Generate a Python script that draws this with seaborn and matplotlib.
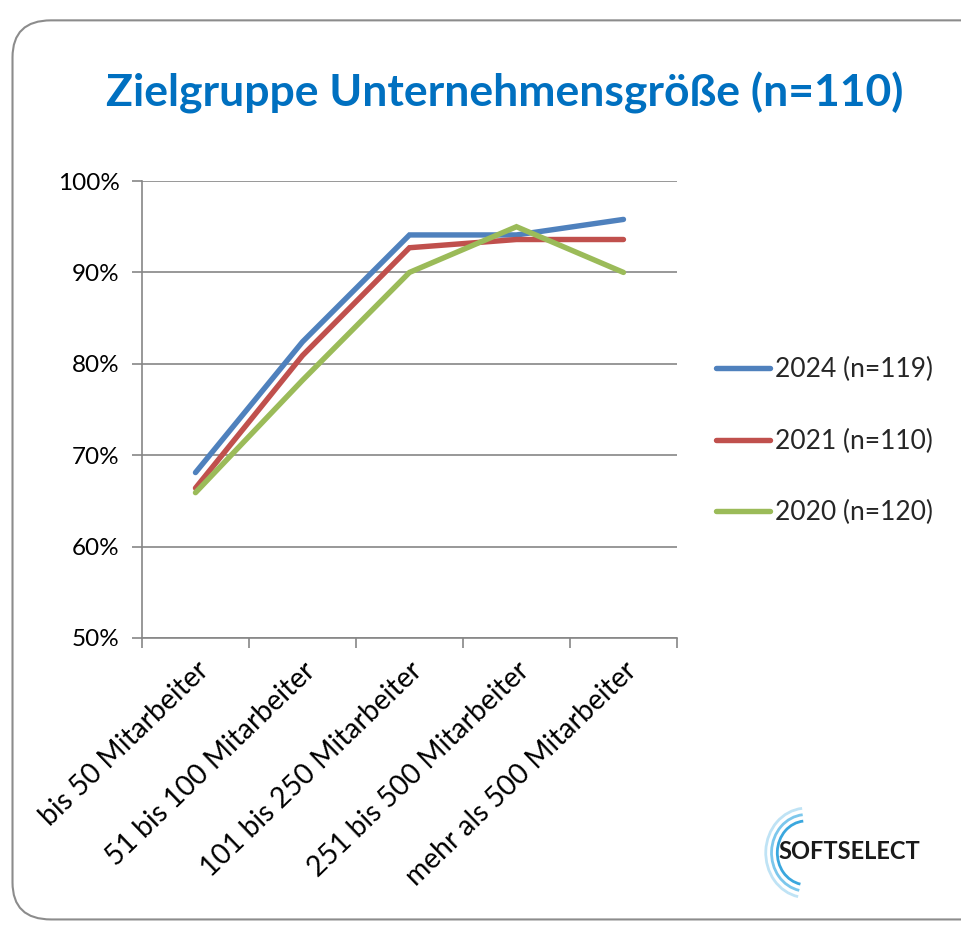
import numpy as np
import pandas as pd
import matplotlib
matplotlib.use("Agg")
import matplotlib.pyplot as plt
from matplotlib.patches import FancyBboxPatch, Arc
from matplotlib.ticker import FixedLocator, PercentFormatter
import seaborn as sns

sns.set_theme(style="white")
plt.rcParams['font.family'] = ['Lato', 'DejaVu Sans']

categories = ['bis 50 Mitarbeiter', '51 bis 100 Mitarbeiter', '101 bis 250 Mitarbeiter',
              '251 bis 500 Mitarbeiter', 'mehr als 500 Mitarbeiter']
series_names = ['2024 (n=119)', '2021 (n=110)', '2020 (n=120)']
values_2024 = [68.1, 82.4, 94.1, 94.1, 95.8]
values_2021 = [66.4, 80.9, 92.7, 93.6, 93.6]
values_2020 = [65.9, 78.2, 90.0, 95.0, 90.0]
colors = ['#4F81BD', '#C0504D', '#9BBB59']

df = pd.DataFrame({
    'Kategorie': categories * 3,
    'Anteil': values_2024 + values_2021 + values_2020,
    'Jahr': [s for s in series_names for _ in categories],
})

fig = plt.figure(figsize=(9.62, 9.25), dpi=100)

# rounded frame around the chart
frame = FancyBboxPatch((0.013, 0.006), 1.2, 0.972, boxstyle="round,pad=0,rounding_size=0.04",
                       transform=fig.transFigure, facecolor='none', edgecolor='#8c8c8c',
                       linewidth=1.5, zorder=-1)
fig.patches.append(frame)

ax = fig.add_axes([0.1476, 0.3103, 0.5561, 0.4940])
ax.set_facecolor('none')

sns.lineplot(data=df, x='Kategorie', y='Anteil', hue='Jahr', palette=colors,
             sort=False, linewidth=3.9, ax=ax, legend=True, zorder=3)
for line in ax.get_lines():
    line.set_solid_capstyle('round')
    line.set_solid_joinstyle('miter')

ax.set_ylim(50, 100)
ax.set_xlim(-0.5, len(categories) - 0.5)
ax.set_yticks(np.arange(50, 101, 10))
ax.yaxis.set_major_formatter(PercentFormatter(decimals=0))
ax.grid(axis='y', color='#868686', linewidth=1.2, zorder=1)
ax.grid(axis='x', visible=False)
for side in ['top', 'right']:
    ax.spines[side].set_visible(False)
for side in ['left', 'bottom']:
    ax.spines[side].set_color('#868686')
    ax.spines[side].set_linewidth(1.2)

ax.set_xticks(range(len(categories)))
ax.set_xticklabels(categories, rotation=44, ha='right', rotation_mode='anchor',
                   fontsize=20.3, color='black')
ax.tick_params(axis='x', which='major', length=0, pad=14)
ax.xaxis.set_minor_locator(FixedLocator(np.arange(-0.5, len(categories), 1.0)))
ax.tick_params(axis='x', which='minor', length=7, width=1.2, color='#868686', bottom=True)
ax.tick_params(axis='y', length=7, width=1.2, color='#868686', left=True, pad=9,
               labelsize=17.5, labelcolor='black')
ax.set_xlabel('')
ax.set_ylabel('')

handles, labels = ax.get_legend_handles_labels()
ax.legend(handles, labels, loc='center left', bbox_to_anchor=(0.72, 0.523),
          bbox_transform=fig.transFigure, frameon=False, fontsize=19,
          handlelength=2.05, handletextpad=0.18, labelspacing=1.75)

fig.text(0.525, 0.9, 'Zielgruppe Unternehmensgröße (n=110)', ha='center', va='center',
         fontsize=32, fontweight='bold', color='#0070C0')

# logo
for i, r in enumerate([0.042, 0.036, 0.030]):
    arc = Arc((0.838, 0.078), r * 2.0, r * 2.3, theta1=95, theta2=260,
              transform=fig.transFigure, color=['#bfe3f5', '#7cc7ec', '#3aa7de'][i],
              linewidth=2.0)
    fig.patches.append(arc)
fig.text(0.883, 0.079, 'SOFTSELECT', ha='center', va='center', fontsize=17,
         fontweight='bold', color='#1a1a1a')

fig.savefig('out.png', dpi=100)
